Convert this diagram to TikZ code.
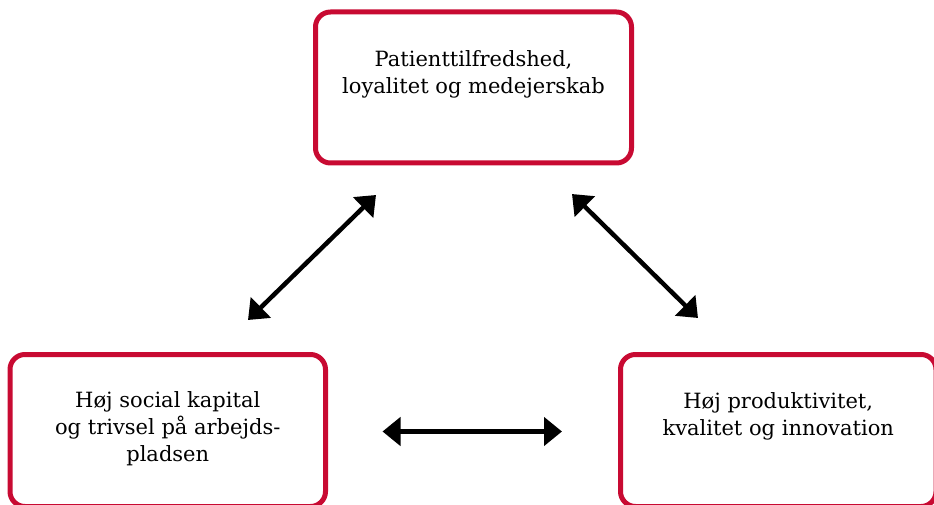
\documentclass[tikz,border=0pt]{standalone}
\usepackage{fontspec}
\setmainfont{DejaVu Serif}
\usetikzlibrary{arrows.meta}
\definecolor{boxred}{RGB}{200,10,50}
\tikzset{
  redbox/.style={draw=boxred, line width=5pt, rounded corners=15pt, fill=white},
  boxtext/.style={align=center, font=\fontsize{21}{27}\selectfont, inner sep=0pt},
  dblarrow/.style={line width=4.5pt, {Triangle[length=18pt,width=28pt]}-{Triangle[length=18pt,width=28pt]}}
}
\begin{document}
\begin{tikzpicture}[x=1pt,y=-1pt]
\useasboundingbox (0,0) rectangle (934,505);
\clip (0,0) rectangle (934,505);
\node[redbox, minimum width=316pt, minimum height=151pt] (top) at (473.5,87.5) {};
\node[redbox, minimum width=315.5pt, minimum height=152pt] (left) at (167.75,430.5) {};
\node[redbox, minimum width=315.5pt, minimum height=152pt] (right) at (778.25,430.5) {};
\node[boxtext] (toptext) at (473.5,74) {Patienttilfredshed,\\loyalitet og medejerskab};
\node[boxtext] (lefttext) at (167.75,429) {Høj social kapital\\og trivsel på arbejds-\\pladsen};
\node[boxtext] (righttext) at (778.25,416) {Høj produktivitet,\\kvalitet og innovation};
\coordinate (a1) at (248,320);
\coordinate (a2) at (376,195);
\coordinate (b1) at (572,194);
\coordinate (b2) at (698,318);
\coordinate (c1) at (382.5,431.5);
\coordinate (c2) at (562,431.5);
\draw[dblarrow] (a1) -- (a2);
\draw[dblarrow] (b1) -- (b2);
\draw[dblarrow] (c1) -- (c2);
\end{tikzpicture}
\end{document}
